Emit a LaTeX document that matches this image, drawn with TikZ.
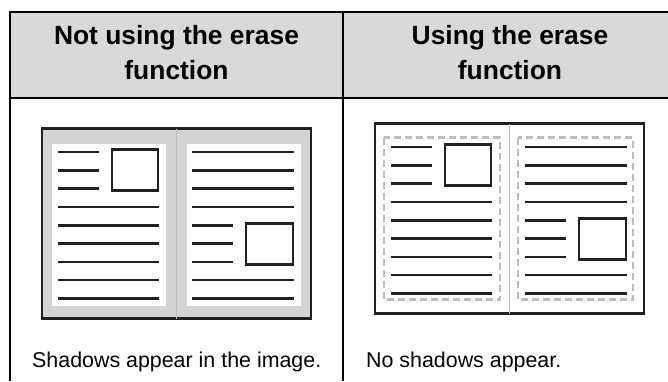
\documentclass[tikz,border=0pt]{standalone}
\usepackage{fontspec}
\setmainfont{Liberation Sans}
\definecolor{headFill}{HTML}{D9D9D9}
\definecolor{shadowFill}{HTML}{D1D3D4}
\definecolor{eraseDraw}{HTML}{BCBEC0}
\definecolor{inkDraw}{HTML}{231F20}
\tikzset{
  rule/.style    ={line width=2.8pt, black},
  cover/.style   ={draw=inkDraw, line width=2.3pt},
  spine/.style   ={draw=eraseDraw, line width=0.8pt},
  txtline/.style ={draw=inkDraw, line width=2.6pt},
  photo/.style   ={draw=inkDraw, line width=2.4pt, fill=white},
  erased/.style  ={draw=eraseDraw, line width=2.3pt, dash pattern=on 7pt off 4pt},
  head/.style    ={align=center, inner sep=0pt, anchor=north, font=\bfseries\fontsize{26.4}{35}\selectfont},
  caption/.style ={anchor=base west, inner sep=0pt, font=\fontsize{21.4}{26}\selectfont},
}
% text lines and pictures of one open spread, origin at its top left corner
\newcommand{\spreadtext}{%
  \foreach \k in {0,1,2} \draw[txtline] (16,23.5+18.3*\k) -- (57,23.5+18.3*\k);
  \foreach \k in {3,...,8} \draw[txtline] (16,23.5+18.3*\k) -- (117,23.5+18.3*\k);
  \draw[photo] (70,21) rectangle (116,62);
  \foreach \k in {0,1,2,3,7,8} \draw[txtline] (150,23.5+18.3*\k) -- (252,23.5+18.3*\k);
  \foreach \k in {4,5,6} \draw[txtline] (150,23.5+18.3*\k) -- (191,23.5+18.3*\k);
  \draw[photo] (204,95) rectangle (251,136);
}

\begin{document}
\begin{tikzpicture}[x=1pt, y=-1pt]
  \useasboundingbox (0,0) rectangle (668,381);
  \clip (0,0) rectangle (668,381);

  % table frame and header row
  \fill[headFill] (10,12) rectangle (680,98);
  \draw[rule, line join=miter] (10,381) -- (10,12) -- (680,12);
  \draw[rule] (10,98) -- (680,98);
  \draw[rule] (343,12) -- (343,381);
  \node[head] (headL) at (176.5,25.5) {Not using the erase\\function};
  \node[head] (headR) at (510,25.5)   {Using the erase\\function};

  % spread without erase (shadow round the pages)
  \begin{scope}[shift={(42,128.5)}]
    \draw[cover, fill=shadowFill] (0,0) rectangle (269,190);
    \draw[spine] (134,0) -- (134,190);
    \fill[white] (10,15) rectangle (124,177);
    \fill[white] (145,15) rectangle (259,177);
    \spreadtext
  \end{scope}

  % spread with erase (dashed erased border)
  \begin{scope}[shift={(375,123.5)}]
    \draw[cover, fill=white] (0,0) rectangle (269,190);
    \draw[spine] (134,0) -- (134,190);
    \draw[erased] (9,14) rectangle (125,176);
    \draw[erased] (143,14) rectangle (258,176);
    \spreadtext
  \end{scope}

  % captions
  \node[caption] (capL) at (32,367)  {Shadows appear in the image.};
  \node[caption] (capR) at (366,367) {No shadows appear.};
\end{tikzpicture}
\end{document}
